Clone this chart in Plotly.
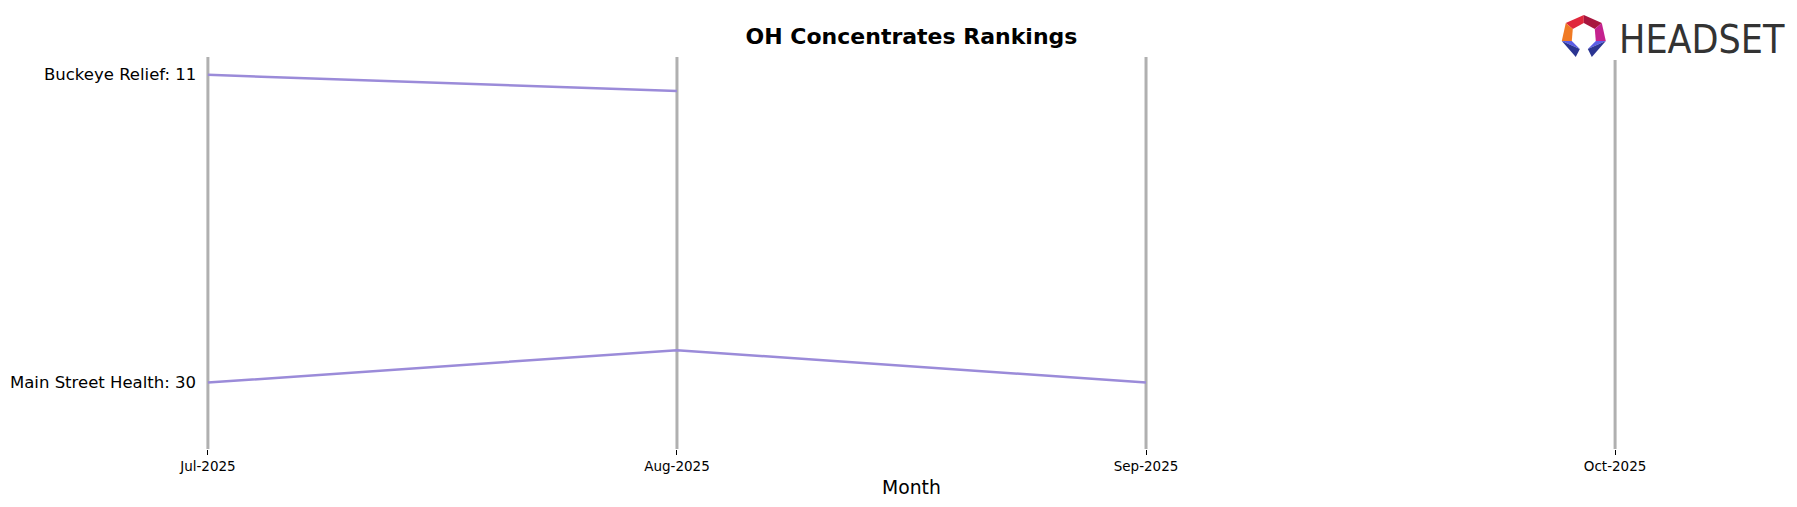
import plotly.graph_objects as go

months = ["Jul-2025", "Aug-2025", "Sep-2025", "Oct-2025"]
brands = ["Buckeye Relief", "Main Street Health"]
buckeye_ranks = [11, 12, None, None]
main_street_ranks = [30, 28, 30, None]
series = [buckeye_ranks, main_street_ranks]

# page body has an 8px margin; figure sized to fit the 1797x507 window
OFF = 8
W, H = 1797 - OFF, 507 - OFF
ML, MR, MT, MB = 161.4 - OFF, 134.8, 57 - OFF, 58
PW, PH = W - ML - MR, H - MT - MB

def px_x(px):
    return (px - OFF - ML) / PW

def px_y(py):
    return (H - MB - (py - OFF)) / PH

LINE_COLOR = "#9b8bd9"
GRID_COLOR = "#b0b0b0"
FONT = "DejaVu Sans"

fig = go.Figure()
xs = list(range(len(months)))

for name, vals in zip(brands, series):
    fig.add_trace(go.Scatter(x=xs, y=vals, mode="lines",
                             line=dict(color=LINE_COLOR, width=2.5),
                             showlegend=False, hoverinfo="skip", connectgaps=False))
    fig.add_annotation(x=0, y=vals[0], xref="x", yref="y",
                       text=f"{name}: {vals[0]}", showarrow=False,
                       xanchor="right", yanchor="middle", xshift=-10,
                       font=dict(family=FONT, size=16.5, color="black"))

for i in xs:
    fig.add_shape(type="line", x0=i, x1=i, y0=0, y1=1, xref="x", yref="paper",
                  line=dict(color=GRID_COLOR, width=3), layer="below")

# Logo background and icon
fig.add_shape(type="rect", x0=px_x(1555), x1=px_x(1790), y0=px_y(60), y1=px_y(9),
              xref="paper", yref="paper", fillcolor="white", line=dict(width=0), layer="above")

def poly(points, color):
    path = "M " + " L ".join(f"{px_x(x)},{px_y(y)}" for x, y in points) + " Z"
    fig.add_shape(type="path", path=path, xref="paper", yref="paper",
                  fillcolor=color, line=dict(width=0), layer="above")

poly([(1584, 15), (1566, 23), (1573, 29), (1584, 23)], "#e0283c")
poly([(1584, 15), (1602, 23), (1595, 29), (1584, 23)], "#a8163e")
poly([(1566, 23), (1562, 41), (1572, 41), (1573, 29)], "#f07a24")
poly([(1602, 23), (1606, 41), (1596, 41), (1595, 29)], "#c4228e")
poly([(1562, 41), (1572, 41), (1580, 49)], "#5b5de6")
poly([(1562, 41), (1580, 49), (1576, 57)], "#2b3592")
poly([(1606, 41), (1596, 41), (1588, 49)], "#5b5de6")
poly([(1606, 41), (1588, 49), (1592, 57)], "#2b3592")

fig.add_annotation(x=px_x(1617), y=px_y(39), xref="paper", yref="paper",
                   text="HEADSET", showarrow=False, xanchor="left", yanchor="middle",
                   font=dict(family="DejaVu Sans Condensed, DejaVu Sans",
                             size=39, color="#333333"))

fig.add_annotation(x=0.5, y=px_y(487), xref="paper", yref="paper",
                   text="Month", showarrow=False, xanchor="center", yanchor="middle",
                   font=dict(family=FONT, size=18.8, color="black"))

fig.update_layout(
    width=W, height=H,
    margin=dict(l=ML, r=MR, t=MT, b=MB, autoexpand=False),
    paper_bgcolor="white", plot_bgcolor="white",
    title=dict(text="<b>OH Concentrates Rankings</b>", x=px_x(911.8), xref="paper",
               xanchor="center", y=1 - (36 - OFF) / H, yref="container", yanchor="middle",
               font=dict(family=FONT, size=22, color="black")),
    xaxis=dict(range=[-0.1, 3.1], tickvals=xs, ticktext=months, showgrid=False,
               zeroline=False, showline=False, ticks="outside", ticklen=5,
               tickcolor="black", tickwidth=1,
               tickfont=dict(family=FONT, size=13.5, color="black")),
    yaxis=dict(range=[34.1, 9.9], visible=False, showgrid=False, zeroline=False),
)

fig.write_html("out.html")
